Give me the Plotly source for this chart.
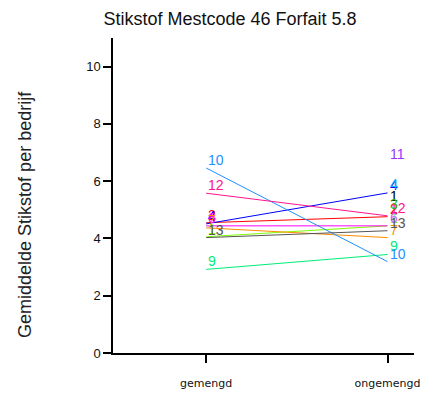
import plotly.graph_objects as go

# Line series (both conditions present)
bedrijven = ["1", "2", "4", "6", "7", "9", "10", "12", "13"]
kleuren = ["#7fff00", "#ff0000", "#0000ff", "#ff00ff", "#ff8c00", "#00ee76", "#1e90ff", "#ff1493", "#555555"]
gemengd = [4.06, 4.55, 4.51, 4.44, 4.37, 2.92, 6.46, 5.58, 4.03]
ongemengd = [4.44, 4.76, 5.59, 4.44, 4.03, 3.44, 3.19, 4.79, 4.27]

# Right label colours (may differ from line colour)
label_kleur_rechts = ["#7fff00", "#ff0000", "#0000ff", "#cc66ff", "#ff8c00", "#00ee76", "#1e90ff", "#ff1493", "#555555"]

# Single-point series (only ongemengd)
los_bedrijven = ["1", "3", "11", "4"]
los_kleuren = ["#000000", "#22bb22", "#9933ff", "#00bfff"]
los_ongemengd = [5.20, 4.92, 6.67, 5.62]

categorieen = ["gemengd", "ongemengd"]
xpos = [1, 2]
y_ticks = [0, 2, 4, 6, 8, 10]

fig = go.Figure()
for b, c, g, o in zip(bedrijven, kleuren, gemengd, ongemengd):
    fig.add_trace(go.Scatter(x=xpos, y=[g, o], mode="lines",
                             line=dict(color=c, width=1), showlegend=False, hoverinfo="skip"))

ann = []
lab_font = "Liberation Sans, Arial, sans-serif"
def lab(x, y, t, c):
    ann.append(dict(x=x, y=y, xref="x", yref="y", text=t, showarrow=False,
                    xanchor="left", yanchor="middle", xshift=0, yshift=8,
                    font=dict(family=lab_font, size=14, color=c)))

for b, c, cr, g, o in zip(bedrijven, kleuren, label_kleur_rechts, gemengd, ongemengd):
    lab(1, g, b, c)
    lab(2, o, b, cr)
for b, c, o in zip(los_bedrijven, los_kleuren, los_ongemengd):
    lab(2, o, b, c)

top, bot = 38, 38
plot_w = 426 - 113 - 6
plot_h = 396 - top - bot
ann.append(dict(x=(23 - 113) / plot_w, y=(396 - bot - 217) / plot_h, xref="paper", yref="paper",
                text="Gemiddelde Stikstof per bedrijf",
                showarrow=False, textangle=-90, xanchor="center", yanchor="middle",
                font=dict(family=lab_font, size=18, color="#222222")))

fig.update_layout(
    width=426, height=396,
    margin=dict(l=113, r=6, t=top, b=bot),
    paper_bgcolor="white", plot_bgcolor="white",
    title=dict(text="Stikstof Mestcode 46 Forfait 5.8", x=230/426, xanchor="center",
               y=1 - 19/396, yanchor="middle",
               font=dict(family=lab_font, size=18, color="#111111")),
    xaxis=dict(range=[0.486, 2.146], tickvals=xpos, ticktext=categorieen,
               showgrid=False, zeroline=False, showline=True, linecolor="black", linewidth=1.5,
               ticks="outside", ticklen=8, tickcolor="black", tickwidth=1.5,
               ticklabelstandoff=11,
               tickfont=dict(family="DejaVu Sans, sans-serif", size=11, color="#111111")),
    yaxis=dict(range=[0, 11], tickvals=y_ticks, showgrid=False, zeroline=False,
               showline=True, linecolor="black", linewidth=1.5,
               ticks="outside", ticklen=8, tickcolor="black", tickwidth=1.5,
               tickfont=dict(family=lab_font, size=13, color="#111111")),
    annotations=ann,
)
fig.write_html("out.html", config={"displayModeBar": False},
               post_script="document.body.style.margin='0px';document.body.style.overflow='hidden';")
